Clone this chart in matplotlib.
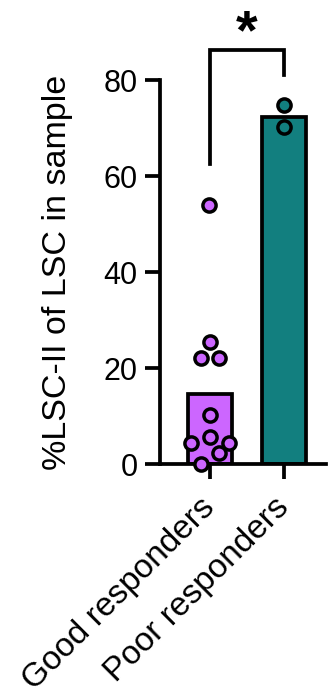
import matplotlib.pyplot as plt

plt.rcParams["font.family"] = ["Liberation Sans", "DejaVu Sans"]

groups = ["Good responders", "Poor responders"]
bar_means = [14.5, 72.4]
good_points = [54.0, 25.5, 22.0, 22.0, 10.2, 5.7, 4.3, 4.3, 2.2, 0.0]
good_offsets = [-0.01, 0.0, -0.12, 0.12, 0.0, 0.0, -0.26, 0.26, 0.12, -0.13]
poor_points = [74.8, 70.3]
poor_offsets = [0.0, 0.0]
colors = ["#CC66FF", "#127F7F"]
y_ticks = [0, 20, 40, 60, 80]

fig = plt.figure(figsize=(3.29, 6.96), dpi=100)
ax = fig.add_axes([0.486, 0.3333, 0.505, 0.5517])

lw = 2.7
x = list(range(len(groups)))
ax.bar(x, bar_means, width=0.6, color=colors, edgecolor="black", linewidth=lw, zorder=2)

for xi, pts, offs, c in [(0, good_points, good_offsets, colors[0]),
                         (1, poor_points, poor_offsets, colors[1])]:
    xs = [xi + o for o in offs]
    ax.scatter(xs, pts, s=90, color=c, edgecolor="black", linewidth=2.5,
               zorder=3, clip_on=False)

# significance bracket
ax.plot([0, 0, 1, 1], [62.6, 86.3, 86.3, 81.0], color="black", linewidth=lw,
        clip_on=False, solid_joinstyle="miter")
ax.text(0.5, 86.7, "*", ha="center", va="baseline", fontsize=40, fontweight="bold")

ax.set_xlim(-0.68, 1.57)
ax.set_ylim(0, 80)
ax.set_yticks(y_ticks)
ax.set_xticks(x)
ax.set_xticklabels(groups, rotation=45, ha="right", va="center",
                   rotation_mode="anchor", fontsize=24)
ax.tick_params(axis="y", labelsize=22, width=lw, length=11, pad=5)
ax.tick_params(axis="x", width=lw, length=11, pad=17)
ax.set_ylabel("%LSC-II of LSC in sample", fontsize=24.5, labelpad=22)

for side in ["top", "right"]:
    ax.spines[side].set_visible(False)
for side in ["left", "bottom"]:
    ax.spines[side].set_linewidth(lw)

fig.savefig("out.png", dpi=100)
